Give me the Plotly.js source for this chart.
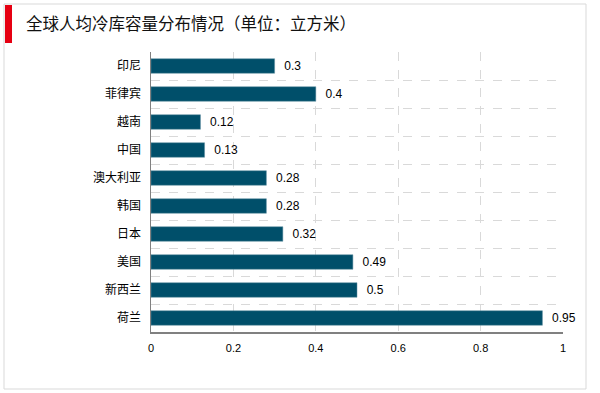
<!DOCTYPE html>
<html><head><meta charset="utf-8">
<script src="https://cdn.plot.ly/plotly-3.0.1.min.js"></script>
<style>html,body{margin:0;padding:0;background:#fff}#chart{width:600px;height:393px}</style>
</head><body><div id="chart"></div>
<script>
const countries = ['印尼','菲律宾','越南','中国','澳大利亚','韩国','日本','美国','新西兰','荷兰'];
const capacity = [0.3, 0.4, 0.12, 0.13, 0.28, 0.28, 0.32, 0.49, 0.5, 0.95];
const labels = capacity.map(v => '\u00a0\u00a0' + String(v));
const xTicks = [0, 0.2, 0.4, 0.6, 0.8, 1];
const xTickText = ['0', '0.2', '0.4', '0.6', '0.8', '1'];
const titleText = '全球人均冷库容量分布情况（单位：立方米）';

const fontFam = 'Liberation Sans, Arial, Noto Sans CJK SC, sans-serif';
const n = countries.length;
const idx = countries.map((c, i) => i);
const boundaries = [];
for (let i = 0; i < n - 1; i++) boundaries.push(i + 0.5);

const trace = {
  type: 'bar', orientation: 'h',
  x: capacity, y: idx,
  text: labels, textposition: 'outside', cliponaxis: false,
  textfont: {family: fontFam, size: 12, color: '#000'},
  marker: {color: '#004f6a', line: {color: '#5f8ea0', width: 0.5}},
  width: 0.52, hoverinfo: 'none'
};
const gridTrace = {type: 'scatter', x: [0], y: [0], yaxis: 'y2', mode: 'markers', marker: {opacity: 0}, hoverinfo: 'none', showlegend: false};

const W = 412, H = 280;
const layout = {
  width: 600, height: 393,
  margin: {l: 151, r: 37, t: 52, b: 61},
  paper_bgcolor: '#fff', plot_bgcolor: '#fff',
  showlegend: false,
  title: {text: titleText, x: 26/600, xanchor: 'left', xref: 'container', y: 1 - 24/393, yref: 'container', yanchor: 'middle',
          font: {family: 'Noto Sans CJK SC, sans-serif', size: 16.5, color: '#111'}},
  xaxis: {range: [0, 1], tickvals: xTicks, ticktext: xTickText, showgrid: true, gridcolor: '#d9d9d9', griddash: 'dash', gridwidth: 1,
          zeroline: false, showline: true, linecolor: '#808080', linewidth: 1.5, ticks: 'outside', ticklen: 5, tickcolor: 'rgba(0,0,0,0)',
          tickfont: {family: fontFam, size: 11, color: '#000'}, fixedrange: true},
  yaxis: {range: [n - 0.5, -0.5], tickvals: idx, ticktext: countries, showgrid: false, zeroline: false,
          showline: true, linecolor: '#808080', linewidth: 1.5, ticks: 'outside', ticklen: 6, tickcolor: 'rgba(0,0,0,0)',
          tickfont: {family: 'Noto Sans CJK SC, sans-serif', size: 12, color: '#000'}, fixedrange: true},
  yaxis2: {overlaying: 'y', range: [n - 0.5, -0.5], tickvals: boundaries, showticklabels: false, showgrid: true,
           gridcolor: '#d9d9d9', griddash: 'dash', gridwidth: 1, zeroline: false, showline: false, ticks: '', fixedrange: true},
  shapes: [
    {type: 'rect', xref: 'paper', yref: 'paper', x0: -147/W, x1: 1 + 23/W, y0: -57/H, y1: 1 + 48/H,
     line: {color: '#d9d9d9', width: 1}, fillcolor: 'rgba(0,0,0,0)', layer: 'below'},
    {type: 'rect', xref: 'paper', yref: 'paper', x0: -146/W, x1: -139/W, y0: 1 + 9/H, y1: 1 + 47/H,
     line: {width: 0}, fillcolor: '#e60012'}
  ]
};
Plotly.newPlot('chart', [trace, gridTrace], layout, {displayModeBar: false, staticPlot: true});
</script></body></html>
